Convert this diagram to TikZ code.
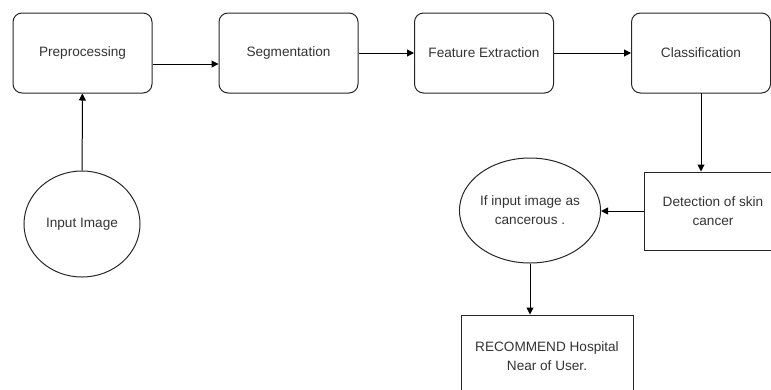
\documentclass[tikz,border=0pt]{standalone}
\usepackage{fontspec}
\setmainfont{Liberation Sans}
\usetikzlibrary{shapes.geometric, arrows.meta}

\begin{document}
\begin{tikzpicture}[x=1pt,y=-1pt,line width=1pt,
  every node/.style={draw=black!85,text=black!80,align=center,inner sep=0pt,
    font=\fontsize{13.6}{19}\selectfont},
  stage/.style={rounded corners=9pt,minimum width=139pt,minimum height=80pt},
  block/.style={minimum width=138pt,minimum height=78pt},
  bubble/.style={ellipse,minimum width=116pt,minimum height=106pt},
  >={Triangle[length=7pt,width=7pt]}]
  \useasboundingbox (0,0) rectangle (771,389);
  \path (82.5,53) node[stage] (pre) {Preprocessing}
  (288.5,53) node[stage] (seg) {Segmentation}
  (484,53) node[stage] (feat) {Feature Extraction}
  (701,53) node[stage] (cls) {Classification};
  \path (82,224) node[bubble] (img) {Input Image}
  (713,211) node[block] (det) {Detection of skin\\cancer}
  (530,210.5) node[bubble,minimum height=105pt] (cancer) {If input image as\\cancerous .}
  (547,356) node[block,minimum width=172pt,minimum height=82pt] (rec) {RECOMMEND Hospital\\Near of User.};
  \draw[->] (img) -- (pre);
  \draw[->] (pre.east |- 0,64) -- (seg.west |- 0,64);
  \draw[->] (seg) -- (feat);
  \draw[->] (feat) -- (cls);
  \draw[->] (cls.south |- 0,93) -- (cls.south |- det.north);
  \draw[->] (det.west) -- (cancer.east |- det.west);
  \draw[->] (cancer) -- (cancer.south |- rec.north);
\end{tikzpicture}
\end{document}
